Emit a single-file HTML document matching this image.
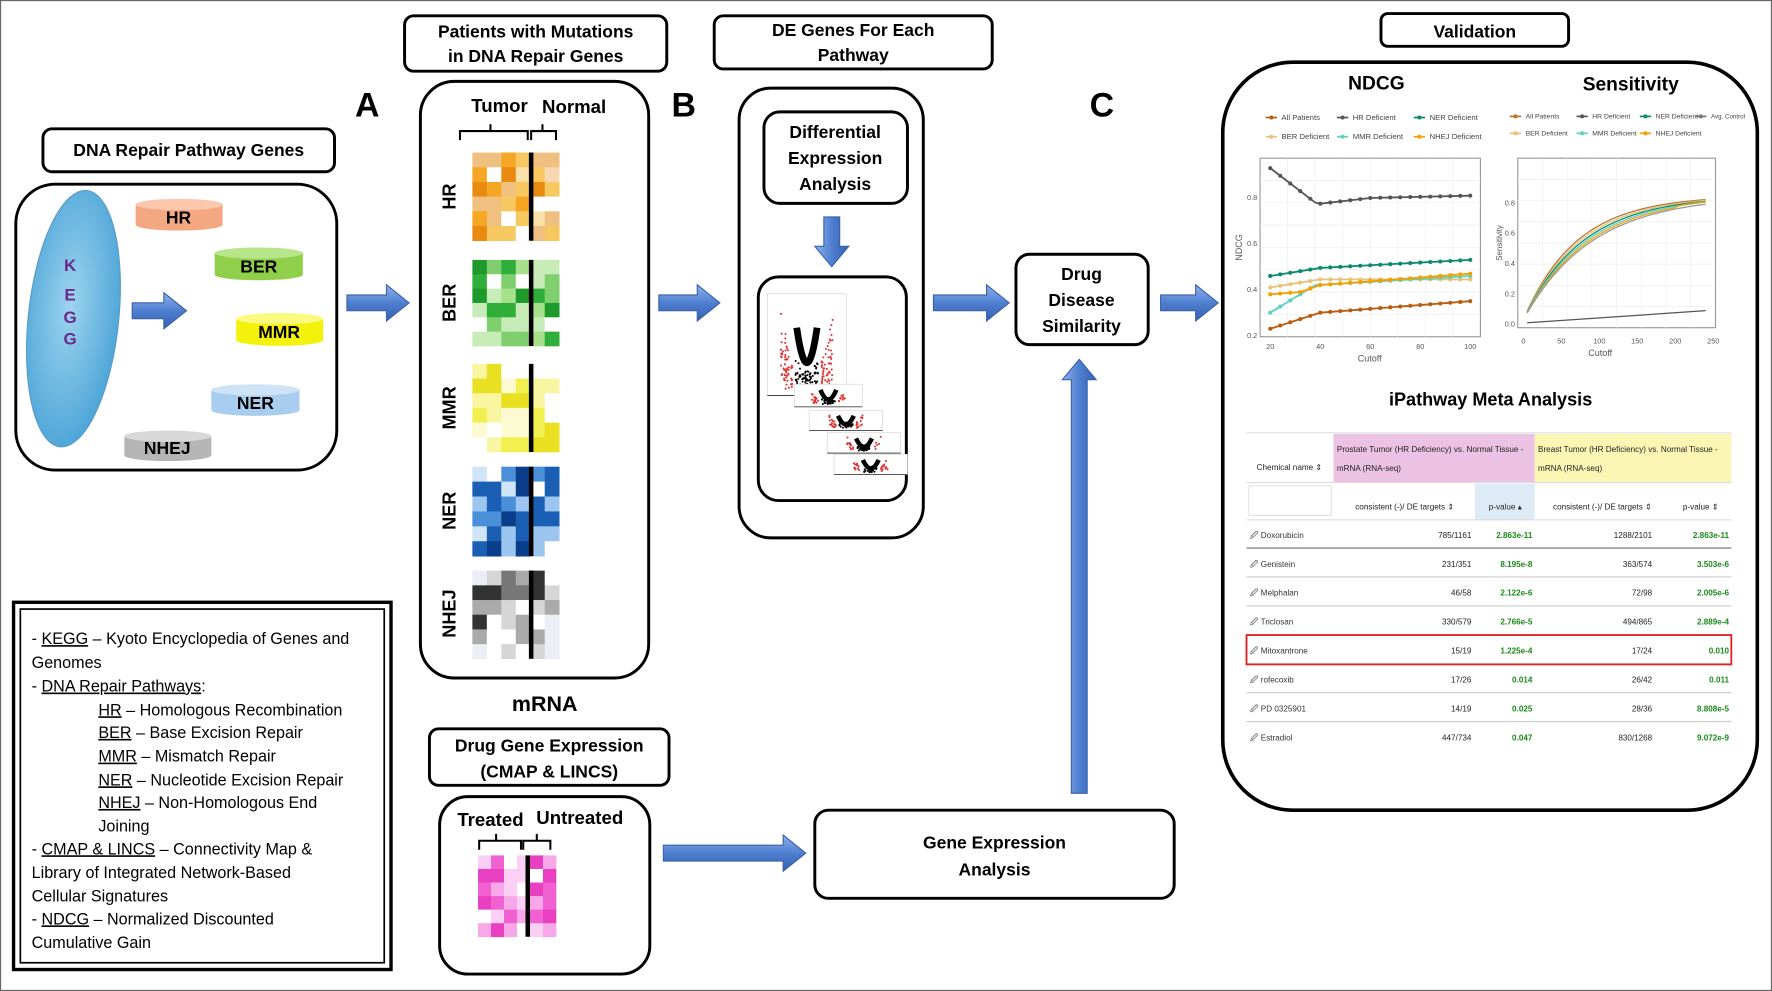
<!DOCTYPE html>
<html><head><meta charset="utf-8"><style>
html,body{margin:0;padding:0;background:#fff;}
svg{display:block;}
text{font-family:"Liberation Sans",sans-serif;}
.b{font-weight:bold;}
</style></head><body>
<svg id="s" width="1772" height="991" viewBox="0 0 1568 877" preserveAspectRatio="none" xmlns="http://www.w3.org/2000/svg">
<defs>
<linearGradient id="ar" x1="0" y1="0" x2="0" y2="1"><stop offset="0" stop-color="#8fb2ec"/><stop offset="0.5" stop-color="#4f7fd0"/><stop offset="1" stop-color="#3561b0"/></linearGradient>
<linearGradient id="arv" x1="0" y1="0" x2="1" y2="0"><stop offset="0" stop-color="#8fb2ec"/><stop offset="0.5" stop-color="#4f7fd0"/><stop offset="1" stop-color="#3561b0"/></linearGradient>
<radialGradient id="kg" cx="0.45" cy="0.45" r="0.6"><stop offset="0" stop-color="#9cd3ef"/><stop offset="1" stop-color="#4aa3d6"/></radialGradient>
</defs>
<rect x="0.5" y="0.5" width="1567" height="876" fill="#fff" stroke="#666" stroke-width="1"/>
<g id="g"></g>
<g fill="none" stroke="#000" stroke-width="2.6">
<rect x="38" y="114" width="258" height="38" rx="8"/>
<rect x="14" y="163" width="284" height="253" rx="35"/>
<rect x="358" y="14" width="232" height="49" rx="8"/>
<rect x="372" y="72" width="202" height="528" rx="30"/>
<rect x="632" y="14" width="246" height="47" rx="8"/>
<rect x="654" y="78" width="163" height="398" rx="28"/>
<rect x="676" y="99" width="127" height="81" rx="14"/>
<rect x="671" y="245" width="131" height="198" rx="18"/>
<rect x="899" y="225" width="117" height="80" rx="12"/>
<rect x="721" y="717" width="318" height="78" rx="12"/>
<rect x="380" y="645" width="212" height="50" rx="8"/>
<rect x="389" y="705" width="186" height="157" rx="25"/>
<rect x="1222" y="12" width="166" height="29" rx="6"/>
<rect x="1082" y="55" width="473" height="662" rx="62" stroke-width="3.2"/>
<rect x="12" y="533" width="334" height="325" stroke-width="3"/>
<rect x="18" y="539" width="322" height="313" stroke-width="1.5"/>
</g>
<g class="b" font-size="15.5" text-anchor="middle" fill="#000">
<text x="167" y="138">DNA Repair Pathway Genes</text>
<text x="474" y="33">Patients with Mutations</text>
<text x="474" y="55">in DNA Repair Genes</text>
<text x="755" y="32">DE Genes For Each</text>
<text x="755" y="54">Pathway</text>
<text x="739" y="122">Differential</text>
<text x="739" y="145">Expression</text>
<text x="739" y="168">Analysis</text>
<text x="957" y="248">Drug</text>
<text x="957" y="271">Disease</text>
<text x="957" y="294">Similarity</text>
<text x="880" y="751">Gene Expression</text>
<text x="880" y="775">Analysis</text>
<text x="486" y="665">Drug Gene Expression</text>
<text x="486" y="688">(CMAP &amp; LINCS)</text>
<text x="1305" y="33">Validation</text>
<text x="442" y="99" font-size="16.5">Tumor</text>
<text x="508" y="100" font-size="16.5">Normal</text>
<text x="434" y="731" font-size="16.5">Treated</text>
<text x="513" y="729" font-size="16.5">Untreated</text>
<text x="482" y="629" font-size="19">mRNA</text>
<text x="1218" y="79" font-size="17">NDCG</text>
<text x="1443" y="80" font-size="17">Sensitivity</text>
<text x="1319" y="359" font-size="16">iPathway Meta Analysis</text>
<text x="325" y="103" font-size="30">A</text>
<text x="605" y="103" font-size="30">B</text>
<text x="975" y="103" font-size="30">C</text>
</g>
<g fill="none" stroke="#000" stroke-width="1.8">
<path d="M407,124 v-8 h27 v-6 v6 h33 v8"/><path d="M470,124 v-8 h10 v-6 v6 h12 v8"/>
<path d="M424,752 v-8 h15 v-6 v6 h22 v8"/><path d="M463,752 v-8 h12 v-6 v6 h12 v8"/>
</g>
<ellipse cx="65" cy="282" rx="40" ry="114" transform="rotate(6 65 282)" fill="url(#kg)" stroke="#5b9cc8" stroke-width="1"/>
<g class="b" font-size="15" fill="#6a2a8a" text-anchor="middle"><text x="62" y="240">K</text><text x="62" y="266">E</text><text x="62" y="286">G</text><text x="62" y="305">G</text></g>
<g id="cyl"></g>
<g class="b" font-size="15.5" fill="#000" text-anchor="middle">
<text x="158" y="198">HR</text><text x="229" y="241">BER</text><text x="247" y="299">MMR</text><text x="226" y="362">NER</text><text x="148" y="402">NHEJ</text>
</g>
<g class="b" font-size="16" fill="#000">
<text transform="translate(403,174) rotate(-90)" text-anchor="middle">HR</text>
<text transform="translate(403,268) rotate(-90)" text-anchor="middle">BER</text>
<text transform="translate(403,361) rotate(-90)" text-anchor="middle">MMR</text>
<text transform="translate(403,452) rotate(-90)" text-anchor="middle">NER</text>
<text transform="translate(403,543) rotate(-90)" text-anchor="middle">NHEJ</text>
</g>
<g id="hm"></g>
<g id="vol"></g>
<g id="arrows"></g>
<g font-size="14.3" fill="#000">
<text x="28" y="570">- <tspan text-decoration="underline">KEGG</tspan> – Kyoto Encyclopedia of Genes and</text>
<text x="28" y="591">Genomes</text>
<text x="28" y="612">- <tspan text-decoration="underline">DNA Repair Pathways</tspan>:</text>
<text x="87" y="633"><tspan text-decoration="underline">HR</tspan> – Homologous Recombination</text>
<text x="87" y="653"><tspan text-decoration="underline">BER</tspan> – Base Excision Repair</text>
<text x="87" y="674"><tspan text-decoration="underline">MMR</tspan> – Mismatch Repair</text>
<text x="87" y="695"><tspan text-decoration="underline">NER</tspan> – Nucleotide Excision Repair</text>
<text x="87" y="715"><tspan text-decoration="underline">NHEJ</tspan> – Non-Homologous End</text>
<text x="87" y="736">Joining</text>
<text x="28" y="756">- <tspan text-decoration="underline">CMAP  &amp; LINCS</tspan> – Connectivity Map &amp;</text>
<text x="28" y="777">Library of Integrated Network-Based</text>
<text x="28" y="798">Cellular Signatures</text>
<text x="28" y="818">- <tspan text-decoration="underline">NDCG</tspan> – Normalized Discounted</text>
<text x="28" y="839">Cumulative Gain</text>
</g>
<g id="charts"></g>
<g id="tbl"></g>
</svg>
<script>
var NS="http://www.w3.org/2000/svg";
function el(p,t,a,txt){var e=document.createElementNS(NS,t);for(var k in a)e.setAttribute(k,a[k]);if(txt!=null)e.textContent=txt;document.getElementById(p).appendChild(e);return e;}
[[120,176,77,28,"#f4a882","#fbc8ad"],[190,219,78,29,"#8fcf4a","#b7e58a"],[209,277,77,29,"#f4f20a","#fbfa80"],[187,340,78,28,"#a9cdef","#cfe3f7"],[110,381,77,27,"#b5b5b5","#d8d8d8"]].forEach(function(c){
 var x=c[0],y=c[1],w=c[2],h=c[3];
 el("cyl","path",{d:"M"+x+","+(y+5)+" v"+(h-10)+" a"+(w/2)+",5 0 0 0 "+w+",0 v"+(-(h-10))+" z",fill:c[4]});
 el("cyl","ellipse",{cx:x+w/2,cy:y+5,rx:w/2,ry:5,fill:c[5]});
});
var seed=7;function rnd(){seed=(seed*9301+49297)%233280;return seed/233280;}
function hm(x,y,rows,cols,cw,ch,pal,bar){
 for(var r=0;r<rows;r++)for(var c=0;c<cols;c++){var v=pal[Math.floor(rnd()*pal.length)];el("hm","rect",{x:x+c*cw,y:y+r*ch,width:cw+0.3,height:ch+0.3,fill:v});}
 el("hm","rect",{x:bar,y:y,width:4,height:rows*ch,fill:"#000"});
}
hm(418,135,6,6,12.8,13,["#f5a623","#f8c860","#fbe0a8","#f0c080","#e88a10","#f7d7b0","#fff"],468);
hm(418,230,6,6,12.8,12.7,["#2fae3a","#7fcf6f","#c8ecb8","#1e9a2a","#a6e08a","#fff"],468);
hm(418,322,6,6,12.8,13,["#f2ef50","#f8f6a0","#fbfad0","#e8e020","#fff"],468);
hm(418,413,6,6,12.8,13.2,["#1a5fb4","#4a90d9","#9cc6ef","#d0e5f8","#0a3d8a","#fff"],468);
hm(418,505,6,6,12.8,13,["#333","#777","#aaa","#d6d6d6","#eceef5","#fff"],468);
hm(423,757,6,6,11.5,12,["#f060d0","#f8a8e8","#fcd0f4","#e840c0","#fff"],465);
[[679,260,70,90,1],[703,340,60,20,0.5],[716,363,65,18,0.5],[732,383,65,18,0.5],[738,402,65,18,0.5]].forEach(function(v,i){
 var x=v[0],y=v[1],w=v[2],h=v[3];
 el("vol","rect",{x:x,y:y,width:w,height:h,fill:"#fff",stroke:"#ccc","stroke-width":0.5});
 el("vol","line",{x1:x,y1:y+h,x2:x+w,y2:y+h,stroke:"#444","stroke-width":0.8});
 var cx=x+w*0.5,bot=y+h-2;
 for(var k=0;k<(i==0?220:50);k++){var dx=(rnd()-0.5)*(i==0?40:24),dy=Math.pow(Math.abs(dx)/(i==0?20:12),2)*(i==0?60:12)*rnd();var red=Math.abs(dx)>(i==0?10:6);el("vol","circle",{cx:cx+dx+(red?(dx>0?3:-3):0),cy:bot-dy-(i==0?rnd()*20:rnd()*3),r:0.9,fill:red?"#e03030":"#000"});}
 el("vol","path",{d:"M"+(cx-(i?7:9))+","+(y+(i?5:30))+" Q"+cx+","+(bot+4)+" "+(cx+(i?7:9))+","+(y+(i?5:30)),fill:"none",stroke:"#000","stroke-width":i?4:6});
});
function harrow(x1,x2,y){var sh=7,hh=16,hl=20;el("arrows","polygon",{points:[x1,y-sh,x2-hl,y-sh,x2-hl,y-hh,x2,y,x2-hl,y+hh,x2-hl,y+sh,x1,y+sh].join(","),fill:"url(#ar)",stroke:"#3a62a8","stroke-width":1});}
function varrow(x,y1,y2,up){var sh=7,hh=15,hl=18;var p=up?[x-sh,y2,x-sh,y1+hl,x-hh,y1+hl,x,y1,x+hh,y1+hl,x+sh,y1+hl,x+sh,y2]:[x-sh,y1,x-sh,y2-hl,x-hh,y2-hl,x,y2,x+hh,y2-hl,x+sh,y2-hl,x+sh,y1];el("arrows","polygon",{points:p.join(","),fill:"url(#arv)",stroke:"#3a62a8","stroke-width":1});}
harrow(117,165,275);harrow(307,362,268);harrow(583,637,268);harrow(826,893,268);harrow(1027,1078,268);harrow(587,713,755);
varrow(736,192,236,false);varrow(955,318,702,true);
function plot(id,x,y,w,h){el(id,"rect",{x:x,y:y,width:w,height:h,fill:"#fff",stroke:"#999","stroke-width":1});for(var i=1;i<8;i++){el(id,"line",{x1:x,x2:x+w,y1:y+h*i/8,y2:y+h*i/8,stroke:"#eee","stroke-width":0.6});el(id,"line",{y1:y,y2:y+h,x1:x+w*i/8,x2:x+w*i/8,stroke:"#eee","stroke-width":0.6});}}
plot("charts",1115,140,195,158);plot("charts",1343,140,175,150);
function nx(v){return 1124+(v-20)*177/80;}function ny(v){return 297-(v-0.2)*203;}
var nd=[["#555",[[20,.93],[38,.78],[40,.775],[60,.80],[100,.81]]],["#0a8a6a",[[20,.46],[40,.495],[100,.53]]],["#e6c27a",[[20,.41],[40,.445],[100,.445]]],["#5fd0c0",[[20,.30],[38,.42],[100,.46]]],["#f5a000",[[20,.38],[32,.39],[40,.42],[100,.47]]],["#b85c10",[[20,.23],[40,.30],[100,.35]]]];
nd.forEach(function(s){var pts=s[1].map(function(p){return nx(p[0])+","+ny(p[1]);}).join(" ");el("charts","polyline",{points:pts,fill:"none",stroke:s[0],"stroke-width":1.6});
 for(var c=20;c<=100;c+=4){var v;for(var i=0;i<s[1].length-1;i++){if(c>=s[1][i][0]&&c<=s[1][i+1][0]){v=s[1][i][1]+(s[1][i+1][1]-s[1][i][1])*(c-s[1][i][0])/(s[1][i+1][0]-s[1][i][0]);}}el("charts","circle",{cx:nx(c),cy:ny(v),r:1.8,fill:s[0]});}});
function sx(v){return 1348+v*168/250;}function sy(v){return 287-v*134;}
["#b87333","#e6c27a","#0a8a6a","#5fd0c0","#f5a000","#999"].forEach(function(c,j){var pts=[];for(var t=5;t<=240;t+=5){var v=0.82*(1-Math.exp(-t/(70+j*4)))+0.03+(j==4&&t>200?0.01:0);pts.push(sx(t)+","+sy(v));}el("charts","polyline",{points:pts.join(" "),fill:"none",stroke:c,"stroke-width":1.1});});
el("charts","polyline",{points:sx(5)+","+sy(0.01)+" "+sx(240)+","+sy(0.09),fill:"none",stroke:"#555","stroke-width":1.1});
var ax={"font-size":6.5,fill:"#555","text-anchor":"middle"};
[20,40,60,80,100].forEach(function(p){el("charts","text",Object.assign({x:nx(p),y:309},ax),p);});
[0.2,0.4,0.6,0.8].forEach(function(v){el("charts","text",Object.assign({x:1108,y:ny(v)+2},ax),v);});
el("charts","text",Object.assign({x:1212,y:320},ax,{"font-size":8}),"Cutoff");
el("charts","text",{x:0,y:0,"font-size":8,fill:"#555","text-anchor":"middle",transform:"translate(1099,219) rotate(-90)"},"NDCG");
[0,50,100,150,200,250].forEach(function(v){el("charts","text",Object.assign({x:sx(v),y:304},ax),v);});
[0,0.2,0.4,0.6,0.8].forEach(function(v){el("charts","text",Object.assign({x:1336,y:sy(v)+2},ax),v.toFixed(1));});
el("charts","text",Object.assign({x:1416,y:315},ax,{"font-size":8}),"Cutoff");
el("charts","text",{x:0,y:0,"font-size":7,fill:"#555","text-anchor":"middle",transform:"translate(1329,215) rotate(-90)"},"Sensitivity");
function leg(x,y,c,t,fs){el("charts","line",{x1:x,x2:x+10,y1:y-2,y2:y-2,stroke:c,"stroke-width":1.5});el("charts","circle",{cx:x+5,cy:y-2,r:1.8,fill:c});el("charts","text",{x:x+14,y:y,"font-size":fs,fill:"#444"},t);}
leg(1120,106,"#b85c10","All Patients",6.8);leg(1183,106,"#555","HR Deficient",6.8);leg(1251,106,"#0a8a6a","NER Deficient",6.8);
leg(1120,123,"#e6c27a","BER Deficient",6.8);leg(1183,123,"#5fd0c0","MMR Deficient",6.8);leg(1251,123,"#f5a000","NHEJ Deficient",6.8);
leg(1336,105,"#b87333","All Patients",6);leg(1395,105,"#555","HR Deficient",6);leg(1451,105,"#0a8a6a","NER Deficient",6);leg(1500,105,"#777","Avg. Control",5.5);
leg(1336,120,"#e6c27a","BER Deficient",6);leg(1395,120,"#5fd0c0","MMR Deficient",6);leg(1451,120,"#f5a000","NHEJ Deficient",6);
el("tbl","rect",{x:1180,y:384,width:178,height:43,fill:"#ecc2e4"});
el("tbl","rect",{x:1358,y:384,width:174,height:43,fill:"#fbf6b4"});
el("tbl","rect",{x:1305,y:428,width:53,height:32,fill:"#dcebf5"});
el("tbl","rect",{x:1105,y:430,width:73,height:26,fill:"#fff",stroke:"#ddd","stroke-width":0.8});
el("tbl","line",{x1:1103,x2:1532,y1:383,y2:383,stroke:"#ddd","stroke-width":1});
el("tbl","line",{x1:1103,x2:1532,y1:427,y2:427,stroke:"#ddd","stroke-width":1});
el("tbl","line",{x1:1103,x2:1532,y1:460,y2:460,stroke:"#ddd","stroke-width":1});
var T={"font-size":7.2,fill:"#222"};
el("tbl","text",Object.assign({x:1141,y:416,"text-anchor":"middle"},T),"Chemical name ⇕");
el("tbl","text",Object.assign({x:1183,y:400},T),"Prostate Tumor (HR Deficiency) vs. Normal Tissue -");
el("tbl","text",Object.assign({x:1183,y:417},T),"mRNA (RNA-seq)");
el("tbl","text",Object.assign({x:1361,y:400},T),"Breast Tumor (HR Deficiency) vs. Normal Tissue -");
el("tbl","text",Object.assign({x:1361,y:417},T),"mRNA (RNA-seq)");
el("tbl","text",Object.assign({x:1243,y:451,"text-anchor":"middle"},T),"consistent (-)/ DE targets ⇕");
el("tbl","text",Object.assign({x:1332,y:451,"text-anchor":"middle"},T),"p-value ▴");
el("tbl","text",Object.assign({x:1418,y:451,"text-anchor":"middle"},T),"consistent (-)/ DE targets ⇕");
el("tbl","text",Object.assign({x:1505,y:451,"text-anchor":"middle"},T),"p-value ⇕");
var rows=[["Doxorubicin","785/1161","2.863e-11","1288/2101","2.863e-11"],["Genistein","231/351","8.195e-8","363/574","3.503e-6"],["Melphalan","46/58","2.122e-6","72/98","2.005e-6"],["Triclosan","330/579","2.766e-5","494/865","2.889e-4"],["Mitoxantrone","15/19","1.225e-4","17/24","0.010"],["rofecoxib","17/26","0.014","26/42","0.011"],["PD 0325901","14/19","0.025","28/36","8.808e-5"],["Estradiol","447/734","0.047","830/1268","9.072e-9"]];
rows.forEach(function(r,i){var y=476+i*25.6;
 el("tbl","text",Object.assign({x:1106,y:y},T),"🖉 "+r[0]).setAttribute("fill","#333");
 el("tbl","text",Object.assign({x:1302,y:y,"text-anchor":"end"},T),r[1]);
 el("tbl","text",{x:1356,y:y,"text-anchor":"end","font-size":7.2,fill:"#1a8a1a","font-weight":"bold"},r[2]);
 el("tbl","text",Object.assign({x:1462,y:y,"text-anchor":"end"},T),r[3]);
 el("tbl","text",{x:1530,y:y,"text-anchor":"end","font-size":7.2,fill:"#1a8a1a","font-weight":"bold"},r[4]);
 if(i<7)el("tbl","line",{x1:1103,x2:1532,y1:y+9,y2:y+9,stroke:i==0?"#999":"#ccc","stroke-width":i==0?1.5:1});
});
el("tbl","rect",{x:1103,y:562,width:429,height:26,fill:"none",stroke:"#e02020","stroke-width":1.6});
</script>
</body></html>
